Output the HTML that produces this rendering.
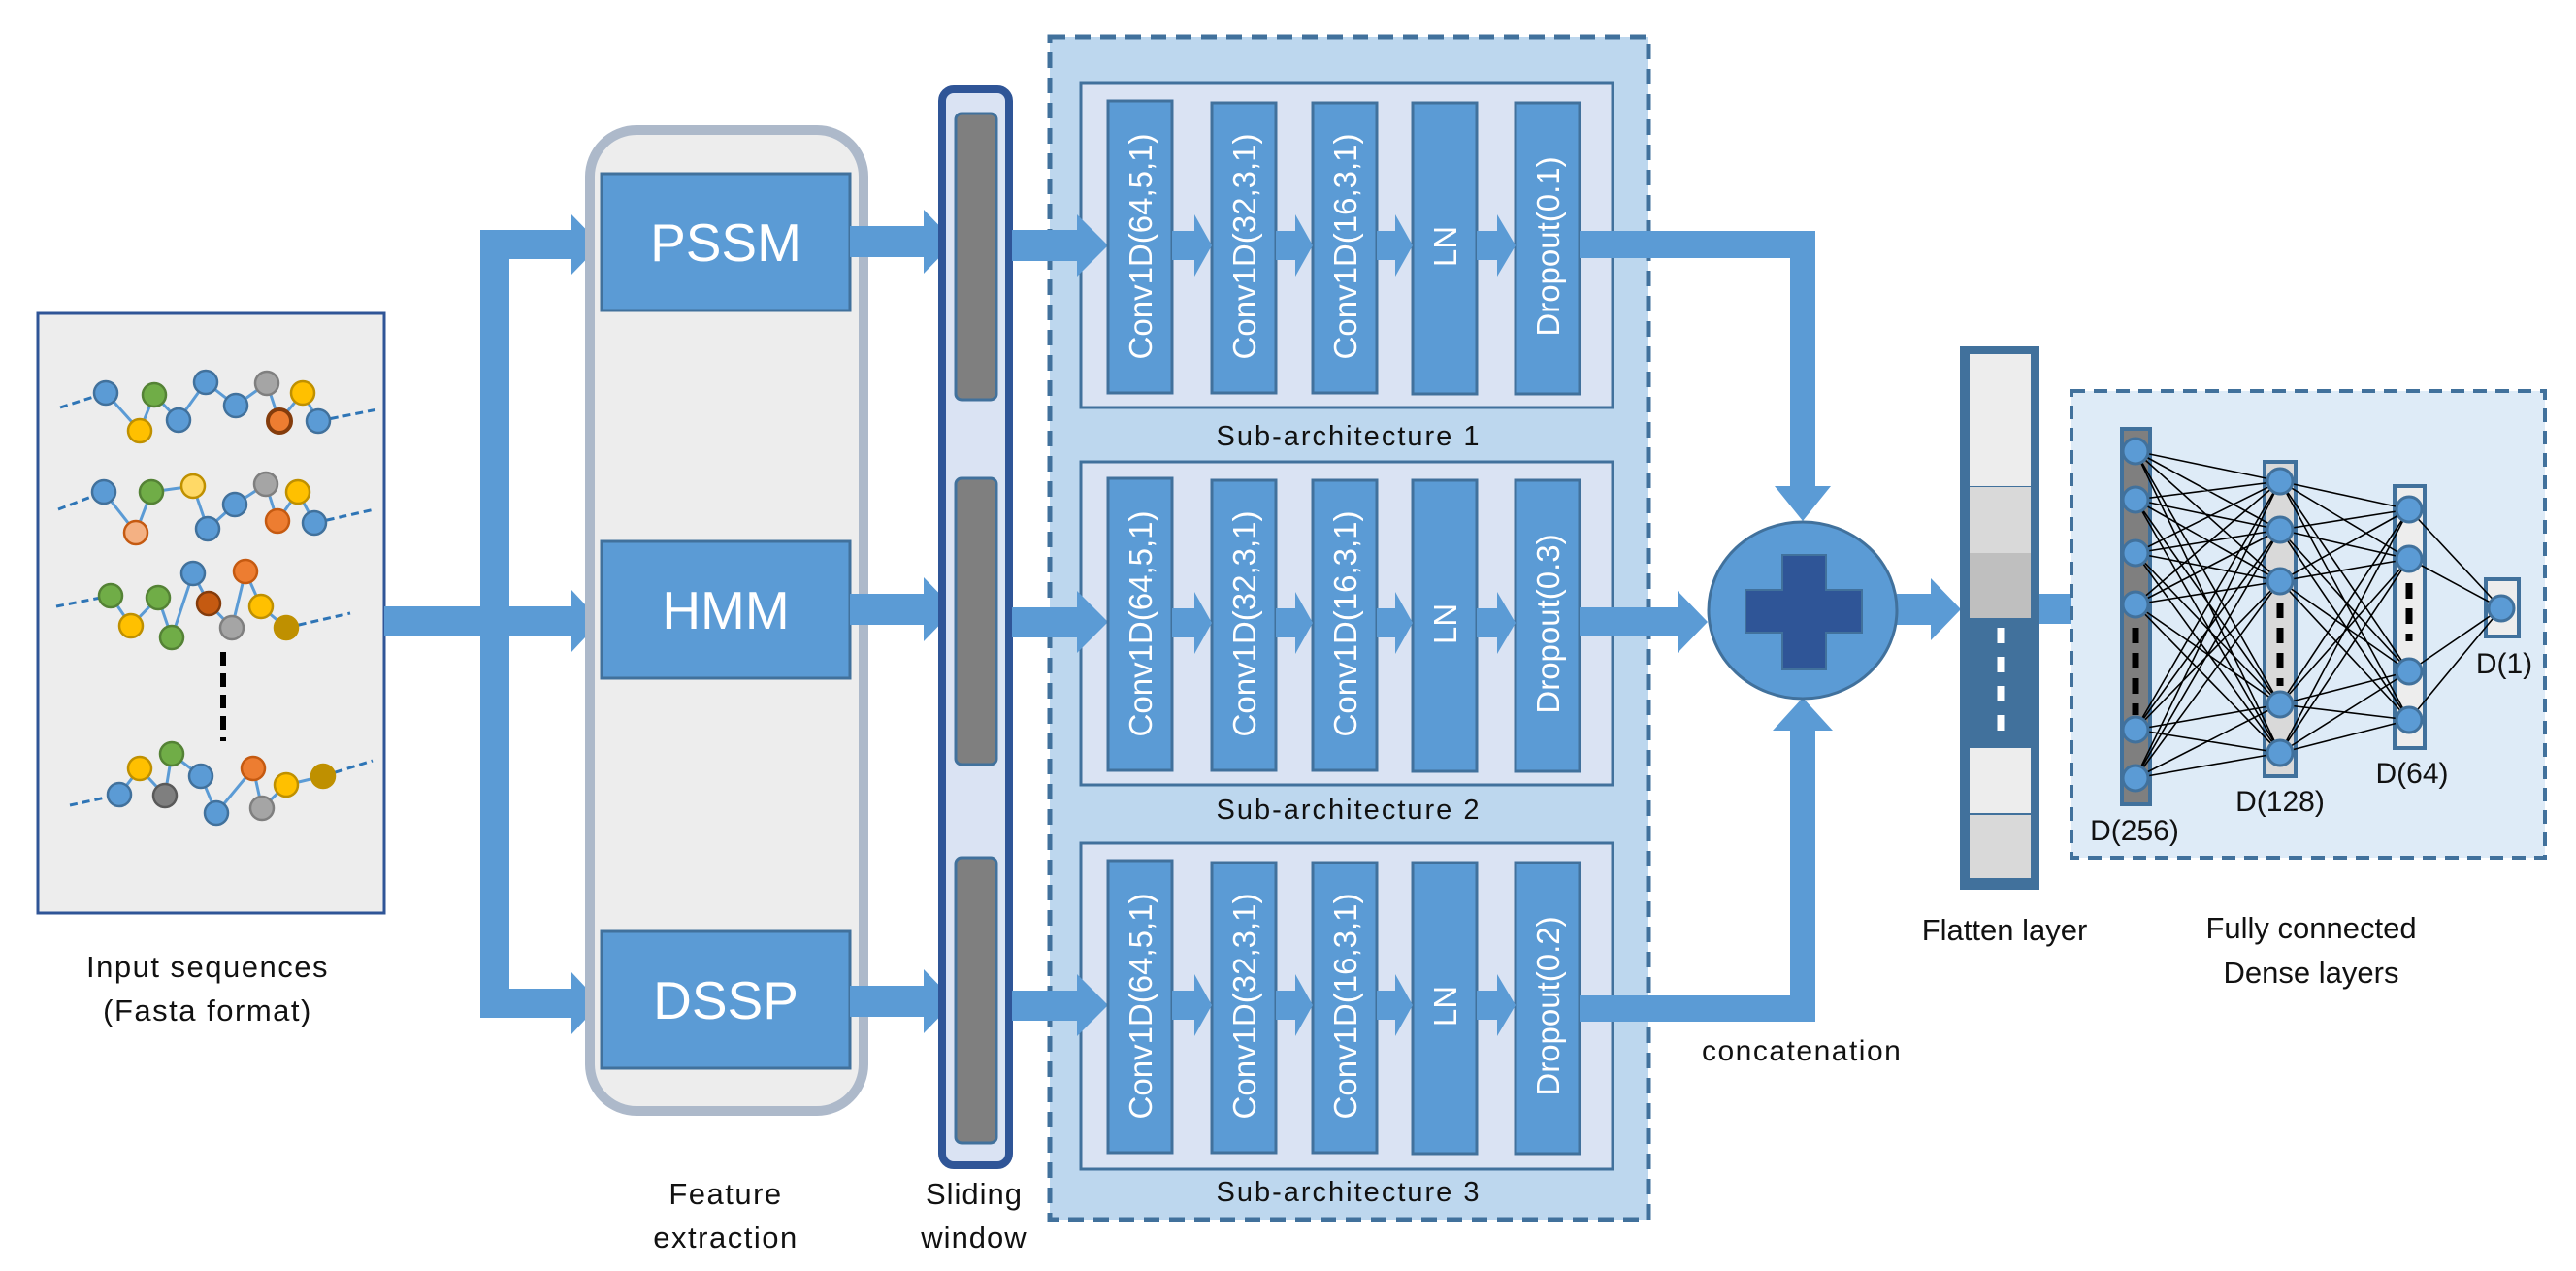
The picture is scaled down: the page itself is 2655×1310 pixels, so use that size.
<!DOCTYPE html>
<html><head><meta charset="utf-8"><style>
html,body{margin:0;padding:0;background:#fff;}
svg{display:block;}
text{font-family:"Liberation Sans",sans-serif;}
</style></head><body>
<svg width="2655" height="1310" viewBox="0 0 2655 1310" xmlns="http://www.w3.org/2000/svg">
<rect width="2655" height="1310" fill="#fff"/>

<!-- Input box -->
<rect x="39" y="323" width="357" height="618" fill="#EDEDED" stroke="#2F5597" stroke-width="3"/>
<g stroke="#2E75B6" stroke-width="3" stroke-dasharray="8,5" fill="none">
<line x1="62" y1="420" x2="109" y2="405"/><line x1="328" y1="434" x2="389" y2="422"/>
<line x1="60" y1="525" x2="107" y2="507"/><line x1="324" y1="539" x2="386" y2="525"/>
<line x1="58" y1="625" x2="114" y2="614"/><line x1="295" y1="647" x2="361" y2="632"/>
<line x1="72" y1="830" x2="123" y2="819"/><line x1="333" y1="800" x2="384" y2="784"/>
</g>
<g stroke="#5B9BD5" stroke-width="3" fill="none">
<polyline points="109,405 144,444 159,407 184,433 212,394 243,418 275,395 288,434 312,405 328,434"/>
<polyline points="107,507 140,549 156,507 199,501 214,545 242,520 274,499 286,537 307,507 324,539"/>
<polyline points="114,614 135,645 163,616 177,657 199,591 215,622 239,647 253,589 269,625 295,647"/>
<polyline points="123,819 144,792 170,820 177,777 207,800 223,838 261,792 270,833 295,809 333,800"/>
</g>
<g stroke-width="2.5">
<circle cx="109" cy="405" r="12" fill="#5B9BD5" stroke="#41719C"/>
<circle cx="144" cy="444" r="12" fill="#FFC000" stroke="#BF9000"/>
<circle cx="159" cy="407" r="12" fill="#70AD47" stroke="#548235"/>
<circle cx="184" cy="433" r="12" fill="#5B9BD5" stroke="#41719C"/>
<circle cx="212" cy="394" r="12" fill="#5B9BD5" stroke="#41719C"/>
<circle cx="243" cy="418" r="12" fill="#5B9BD5" stroke="#41719C"/>
<circle cx="275" cy="395" r="12" fill="#A5A5A5" stroke="#7F7F7F"/>
<circle cx="288" cy="434" r="12" fill="#ED7D31" stroke="#843C0C" stroke-width="4"/>
<circle cx="312" cy="405" r="12" fill="#FFC000" stroke="#BF9000"/>
<circle cx="328" cy="434" r="12" fill="#5B9BD5" stroke="#41719C"/>

<circle cx="107" cy="507" r="12" fill="#5B9BD5" stroke="#41719C"/>
<circle cx="140" cy="549" r="12" fill="#F4B183" stroke="#C55A11"/>
<circle cx="156" cy="507" r="12" fill="#70AD47" stroke="#548235"/>
<circle cx="199" cy="501" r="12" fill="#FFD966" stroke="#BF9000"/>
<circle cx="214" cy="545" r="12" fill="#5B9BD5" stroke="#41719C"/>
<circle cx="242" cy="520" r="12" fill="#5B9BD5" stroke="#41719C"/>
<circle cx="274" cy="499" r="12" fill="#A5A5A5" stroke="#7F7F7F"/>
<circle cx="286" cy="537" r="12" fill="#ED7D31" stroke="#C55A11"/>
<circle cx="307" cy="507" r="12" fill="#FFC000" stroke="#BF9000"/>
<circle cx="324" cy="539" r="12" fill="#5B9BD5" stroke="#41719C"/>

<circle cx="114" cy="614" r="12" fill="#70AD47" stroke="#548235"/>
<circle cx="135" cy="645" r="12" fill="#FFC000" stroke="#BF9000"/>
<circle cx="163" cy="616" r="12" fill="#70AD47" stroke="#548235"/>
<circle cx="177" cy="657" r="12" fill="#70AD47" stroke="#548235"/>
<circle cx="199" cy="591" r="12" fill="#5B9BD5" stroke="#41719C"/>
<circle cx="215" cy="622" r="12" fill="#C55A11" stroke="#843C0C"/>
<circle cx="239" cy="647" r="12" fill="#A5A5A5" stroke="#7F7F7F"/>
<circle cx="253" cy="589" r="12" fill="#ED7D31" stroke="#C55A11"/>
<circle cx="269" cy="625" r="12" fill="#FFC000" stroke="#BF9000"/>
<circle cx="295" cy="647" r="12" fill="#BF9000" stroke="#BF9000"/>

<circle cx="123" cy="819" r="12" fill="#5B9BD5" stroke="#41719C"/>
<circle cx="144" cy="792" r="12" fill="#FFC000" stroke="#BF9000"/>
<circle cx="170" cy="820" r="12" fill="#7F7F7F" stroke="#595959"/>
<circle cx="177" cy="777" r="12" fill="#70AD47" stroke="#548235"/>
<circle cx="207" cy="800" r="12" fill="#5B9BD5" stroke="#41719C"/>
<circle cx="223" cy="838" r="12" fill="#5B9BD5" stroke="#41719C"/>
<circle cx="261" cy="792" r="12" fill="#ED7D31" stroke="#C55A11"/>
<circle cx="270" cy="833" r="12" fill="#A5A5A5" stroke="#7F7F7F"/>
<circle cx="295" cy="809" r="12" fill="#FFC000" stroke="#BF9000"/>
<circle cx="333" cy="800" r="12" fill="#BF9000" stroke="#BF9000"/>
</g>
<line x1="230" y1="672" x2="230" y2="764" stroke="#000" stroke-width="6" stroke-dasharray="14,8"/>
<text x="214" y="1007" font-size="31" text-anchor="middle" letter-spacing="1.5" fill="#111">Input sequences</text>
<text x="214" y="1052" font-size="31" text-anchor="middle" letter-spacing="1.5" fill="#111">(Fasta format)</text>

<!-- trunk arrows -->
<g fill="#5B9BD5">
<polygon points="396,625 589,625 589,608 619,640 589,672 589,655 396,655"/>
<rect x="495" y="237" width="30" height="812"/>
<polygon points="495,237 589,237 589,221 619,252 589,283 589,267 495,267"/>
<polygon points="495,1019 589,1019 589,1002 619,1034 589,1066 589,1049 495,1049"/>
</g>

<!-- Feature extraction -->
<rect x="608" y="134" width="282" height="1011" rx="48" fill="#EDEDED" stroke="#ADB9CA" stroke-width="10"/>
<g fill="#5B9BD5" stroke="#41719C" stroke-width="3">
<rect x="620" y="179" width="256" height="141"/>
<rect x="620" y="558" width="256" height="141"/>
<rect x="620" y="960" width="256" height="141"/>
</g>
<g fill="#fff" font-size="55" text-anchor="middle">
<text x="748" y="269">PSSM</text>
<text x="748" y="648">HMM</text>
<text x="748" y="1050">DSSP</text>
</g>
<text x="748" y="1241" font-size="31" text-anchor="middle" letter-spacing="1.5" fill="#111">Feature</text>
<text x="748" y="1286" font-size="31" text-anchor="middle" letter-spacing="1.5" fill="#111">extraction</text>

<!-- feature -> sliding -->
<g fill="#5B9BD5">
<polygon points="876,233 952,233 952,216 984,249 952,282 952,265 876,265"/>
<polygon points="876,612 952,612 952,595 984,628 952,661 952,644 876,644"/>
<polygon points="876,1016 952,1016 952,999 984,1032 952,1065 952,1048 876,1048"/>
</g>

<!-- Sliding window -->
<rect x="971" y="92" width="69" height="1109" rx="12" fill="#DAE3F3" stroke="#2F5597" stroke-width="8"/>
<g fill="#7F7F7F" stroke="#41719C" stroke-width="3">
<rect x="985" y="117" width="42" height="295" rx="6"/>
<rect x="985" y="493" width="42" height="295" rx="6"/>
<rect x="985" y="884" width="42" height="294" rx="6"/>
</g>
<text x="1004" y="1241" font-size="31" text-anchor="middle" letter-spacing="1" fill="#111">Sliding</text>
<text x="1004" y="1286" font-size="31" text-anchor="middle" letter-spacing="1" fill="#111">window</text>

<!-- Outer dashed container -->
<rect x="1082" y="38" width="617" height="1219" fill="#BDD7EE" stroke="#41719C" stroke-width="5" stroke-dasharray="16,10"/>
<g fill="#DAE3F3" stroke="#41719C" stroke-width="3">
<rect x="1114" y="86" width="548" height="334"/>
<rect x="1114" y="476" width="548" height="333"/>
<rect x="1114" y="869" width="548" height="336"/>
</g>
<g font-size="29" text-anchor="middle" letter-spacing="2" fill="#111">
<text x="1390" y="459">Sub-architecture 1</text>
<text x="1390" y="844">Sub-architecture 2</text>
<text x="1390" y="1238">Sub-architecture 3</text>
</g>

<!-- sliding -> blocks arrows -->
<g fill="#5B9BD5">
<polygon points="1043,237 1110,237 1110,221 1142,253 1110,285 1110,269 1043,269"/>
<polygon points="1043,626 1110,626 1110,609 1142,641 1110,673 1110,657 1043,657"/>
<polygon points="1043,1021 1110,1021 1110,1004 1142,1036 1110,1068 1110,1052 1043,1052"/>
</g>

<!-- blocks -->
<g fill="#5B9BD5" stroke="#41719C" stroke-width="3">
<rect x="1142" y="104" width="66" height="301"/><rect x="1249" y="106" width="66" height="299"/><rect x="1353" y="106" width="66" height="299"/><rect x="1456" y="106" width="66" height="300"/><rect x="1562" y="106" width="66" height="300"/>
<rect x="1142" y="493" width="66" height="301"/><rect x="1249" y="495" width="66" height="299"/><rect x="1353" y="495" width="66" height="299"/><rect x="1456" y="495" width="66" height="300"/><rect x="1562" y="495" width="66" height="300"/>
<rect x="1142" y="887" width="66" height="301"/><rect x="1249" y="889" width="66" height="299"/><rect x="1353" y="889" width="66" height="299"/><rect x="1456" y="889" width="66" height="300"/><rect x="1562" y="889" width="66" height="300"/>
</g>
<g fill="#fff" font-size="33" text-anchor="middle">
<text transform="translate(1187,254) rotate(-90)">Conv1D(64,5,1)</text>
<text transform="translate(1294,254) rotate(-90)">Conv1D(32,3,1)</text>
<text transform="translate(1398,254) rotate(-90)">Conv1D(16,3,1)</text>
<text transform="translate(1501,254) rotate(-90)">LN</text>
<text transform="translate(1607,254) rotate(-90)">Dropout(0.1)</text>
<text transform="translate(1187,643) rotate(-90)">Conv1D(64,5,1)</text>
<text transform="translate(1294,643) rotate(-90)">Conv1D(32,3,1)</text>
<text transform="translate(1398,643) rotate(-90)">Conv1D(16,3,1)</text>
<text transform="translate(1501,643) rotate(-90)">LN</text>
<text transform="translate(1607,643) rotate(-90)">Dropout(0.3)</text>
<text transform="translate(1187,1037) rotate(-90)">Conv1D(64,5,1)</text>
<text transform="translate(1294,1037) rotate(-90)">Conv1D(32,3,1)</text>
<text transform="translate(1398,1037) rotate(-90)">Conv1D(16,3,1)</text>
<text transform="translate(1501,1037) rotate(-90)">LN</text>
<text transform="translate(1607,1037) rotate(-90)">Dropout(0.2)</text>
</g>

<!-- inter-block arrows -->
<g fill="#5B9BD5">
<polygon points="1208,238 1231,238 1231,221 1249,253 1231,285 1231,268 1208,268"/>
<polygon points="1315,238 1335,238 1335,221 1353,253 1335,285 1335,268 1315,268"/>
<polygon points="1419,238 1438,238 1438,221 1456,253 1438,285 1438,268 1419,268"/>
<polygon points="1522,238 1543,238 1543,221 1562,253 1543,285 1543,268 1522,268"/>
<polygon points="1208,627 1231,627 1231,610 1249,642 1231,674 1231,657 1208,657"/>
<polygon points="1315,627 1335,627 1335,610 1353,642 1335,674 1335,657 1315,657"/>
<polygon points="1419,627 1438,627 1438,610 1456,642 1438,674 1438,657 1419,657"/>
<polygon points="1522,627 1543,627 1543,610 1562,642 1543,674 1543,657 1522,657"/>
<polygon points="1208,1021 1231,1021 1231,1004 1249,1036 1231,1068 1231,1051 1208,1051"/>
<polygon points="1315,1021 1335,1021 1335,1004 1353,1036 1335,1068 1335,1051 1315,1051"/>
<polygon points="1419,1021 1438,1021 1438,1004 1456,1036 1438,1068 1438,1051 1419,1051"/>
<polygon points="1522,1021 1543,1021 1543,1004 1562,1036 1543,1068 1543,1051 1522,1051"/>
<!-- outputs -->
<polygon points="1628,238 1871,238 1871,501 1887,501 1858,537 1829,501 1845,501 1845,266 1628,266"/>
<polygon points="1628,626 1729,626 1729,609 1760,641 1729,673 1729,656 1628,656"/>
<polygon points="1628,1053 1871,1053 1871,753 1889,753 1858,719 1827,753 1845,753 1845,1026 1628,1026"/>
<polygon points="1955,612 1990,612 1990,596 2021,628 1990,660 1990,644 1955,644"/>
<polygon points="2102,612 2136,612 2136,597 2167,628 2136,659 2136,643 2102,643"/>
</g>
<text x="1754" y="1093" font-size="30" letter-spacing="1.5" fill="#111">concatenation</text>

<!-- concat circle -->
<ellipse cx="1858" cy="629" rx="97" ry="91" fill="#5B9BD5" stroke="#41719C" stroke-width="3"/>
<g fill="#2F5597" stroke="#41719C" stroke-width="2">
<path d="M1837,572 H1882 V608 H1919 V652 H1882 V690 H1837 V652 H1799 V608 H1837 Z"/>
</g>

<!-- Flatten -->
<rect x="2024" y="361" width="74" height="552" fill="#41719C" stroke="#41719C" stroke-width="8"/>
<rect x="2030" y="365" width="63" height="136" fill="#EDEDED"/>
<rect x="2030" y="502" width="63" height="68" fill="#D9D9D9"/>
<rect x="2030" y="570" width="63" height="67" fill="#BFBFBF"/>
<rect x="2030" y="771" width="63" height="67" fill="#EDEDED"/>
<rect x="2030" y="840" width="63" height="65" fill="#D9D9D9"/>
<line x1="2062" y1="647" x2="2062" y2="762" stroke="#fff" stroke-width="7" stroke-dasharray="16,14"/>
<text x="2066" y="969" font-size="31" text-anchor="middle" fill="#111">Flatten layer</text>

<!-- Dense box -->
<rect x="2135" y="403" width="488" height="481" fill="#DEEBF7" stroke="#41719C" stroke-width="4" stroke-dasharray="14,9"/>
<rect x="2187" y="442" width="29" height="387" fill="#7F7F7F" stroke="#41719C" stroke-width="4"/>
<rect x="2334" y="476" width="32" height="324" fill="#D9D9D9" stroke="#41719C" stroke-width="4"/>
<rect x="2468" y="501" width="31" height="270" fill="#EDEDED" stroke="#41719C" stroke-width="4"/>
<rect x="2562" y="597" width="34" height="59" fill="#EDEDED" stroke="#41719C" stroke-width="4"/>
<g stroke="#000" stroke-width="1.6" fill="none">
<path d="M2201 465L2350 496M2201 465L2350 546M2201 465L2350 599M2201 465L2350 726M2201 465L2350 776
M2201 515L2350 496M2201 515L2350 546M2201 515L2350 599M2201 515L2350 726M2201 515L2350 776
M2201 570L2350 496M2201 570L2350 546M2201 570L2350 599M2201 570L2350 726M2201 570L2350 776
M2201 623L2350 496M2201 623L2350 546M2201 623L2350 599M2201 623L2350 726M2201 623L2350 776
M2201 752L2350 496M2201 752L2350 546M2201 752L2350 599M2201 752L2350 726M2201 752L2350 776
M2201 802L2350 496M2201 802L2350 546M2201 802L2350 599M2201 802L2350 726M2201 802L2350 776
M2350 496L2483 525M2350 496L2483 576M2350 496L2483 692M2350 496L2483 742
M2350 546L2483 525M2350 546L2483 576M2350 546L2483 692M2350 546L2483 742
M2350 599L2483 525M2350 599L2483 576M2350 599L2483 692M2350 599L2483 742
M2350 726L2483 525M2350 726L2483 576M2350 726L2483 692M2350 726L2483 742
M2350 776L2483 525M2350 776L2483 576M2350 776L2483 692M2350 776L2483 742
M2483 525L2578 627M2483 576L2578 627M2483 692L2578 627M2483 742L2578 627"/>
</g>
<g stroke="#000" stroke-width="7">
<line x1="2201" y1="647" x2="2201" y2="737" stroke-dasharray="16,10"/>
<line x1="2350" y1="621" x2="2350" y2="707" stroke-dasharray="16,10"/>
<line x1="2483" y1="601" x2="2483" y2="661" stroke-dasharray="16,10"/>
</g>
<g fill="#5B9BD5" stroke="#41719C" stroke-width="3">
<circle cx="2201" cy="465" r="13"/><circle cx="2201" cy="515" r="13"/><circle cx="2201" cy="570" r="13"/><circle cx="2201" cy="623" r="13"/><circle cx="2201" cy="752" r="13"/><circle cx="2201" cy="802" r="13"/>
<circle cx="2350" cy="496" r="13"/><circle cx="2350" cy="546" r="13"/><circle cx="2350" cy="599" r="13"/><circle cx="2350" cy="726" r="13"/><circle cx="2350" cy="776" r="13"/>
<circle cx="2483" cy="525" r="13"/><circle cx="2483" cy="576" r="13"/><circle cx="2483" cy="692" r="13"/><circle cx="2483" cy="742" r="13"/>
<circle cx="2578" cy="627" r="13"/>
</g>
<g font-size="30" text-anchor="middle" fill="#111">
<text x="2200" y="866">D(256)</text>
<text x="2350" y="836">D(128)</text>
<text x="2486" y="807">D(64)</text>
<text x="2581" y="694">D(1)</text>
</g>
<text x="2382" y="967" font-size="31" text-anchor="middle" fill="#111">Fully connected</text>
<text x="2382" y="1013" font-size="31" text-anchor="middle" fill="#111">Dense layers</text>
</svg>
</body></html>
